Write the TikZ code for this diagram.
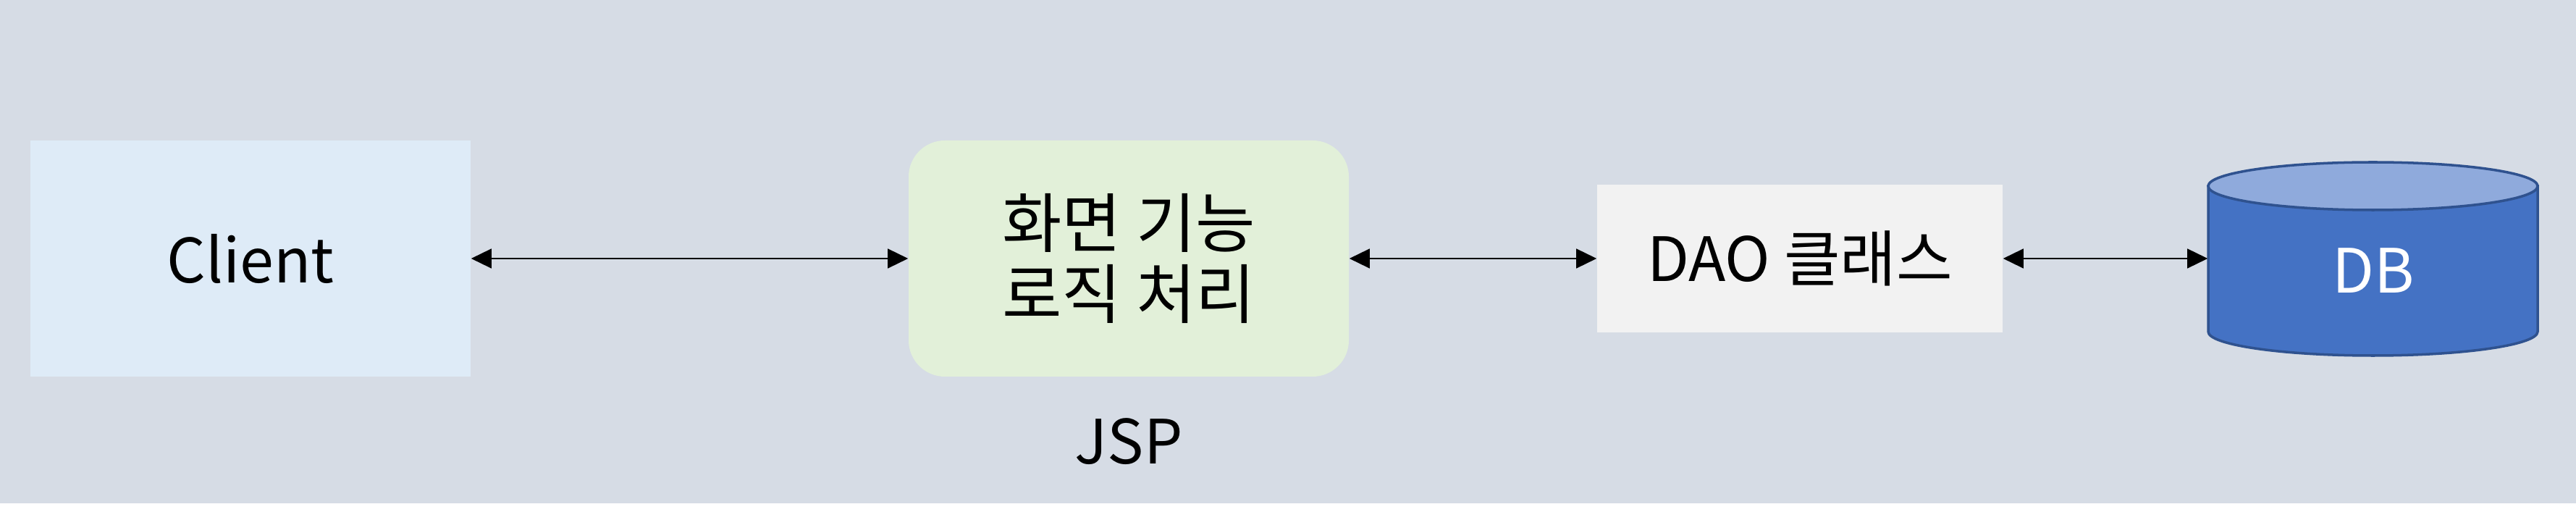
\documentclass[tikz,border=0pt]{standalone}
\usepackage{fontspec}
\setmainfont{Noto Sans CJK KR}
\usepackage{tikz}
\usepackage{xcolor}
\usetikzlibrary{arrows.meta}

\definecolor{bgcol}{HTML}{D6DCE5}
\definecolor{clientcol}{HTML}{DEEBF7}
\definecolor{jspcol}{HTML}{E2F0D9}
\definecolor{daocol}{HTML}{F2F2F2}
\definecolor{dbbody}{HTML}{4472C4}
\definecolor{dbtop}{HTML}{8FAADC}
\definecolor{dbline}{HTML}{2F528F}

\begin{document}
\begin{tikzpicture}[scale=1,{Triangle[length=8pt,width=7.7pt]}-{Triangle[length=8pt,width=7.7pt]},line width=0.45pt,
  txt/.style={font=\fontsize{24}{28.5}\selectfont,align=center},
  box/.style={txt,inner sep=0pt,minimum width=6.08cm,minimum height=3.26cm}]
\useasboundingbox (0,0) rectangle (35.58,7.07);
\fill[bgcol] (0,0.12) rectangle (35.58,7.07);
\node[box,fill=clientcol](client) at (3.46,3.50) {Client};
\node[box,fill=jspcol,rounded corners=0.5cm,font=\fontsize{25.5}{28}\selectfont](jsp) at (15.59,3.50) {화면 기능\\로직 처리};
\node[box,fill=daocol,minimum width=5.60cm,minimum height=2.04cm](dao) at (24.86,3.50) {DAO 클래스};
\node[txt,anchor=base](jsplabel) at (15.59,0.66) {JSP};
% DB cylinder
\draw[-,line width=1pt,draw=dbline,fill=dbbody] (30.50,4.50) -- (30.50,2.49) arc[start angle=180,end angle=360,x radius=2.275,y radius=0.33] -- (35.05,4.50) -- cycle;
\draw[-,line width=1pt,draw=dbline,fill=dbtop] (32.775,4.50) ellipse[x radius=2.275,y radius=0.33];
\node[minimum width=4.55cm,minimum height=2.67cm,inner sep=0pt](db) at (32.775,3.50) {};
\node[txt,anchor=base,text=white](dbtext) at (32.78,3.02) {DB};
\draw (client) -- (jsp);
\draw (jsp) -- (dao);
\draw (dao) -- (db);
\end{tikzpicture}
\end{document}
